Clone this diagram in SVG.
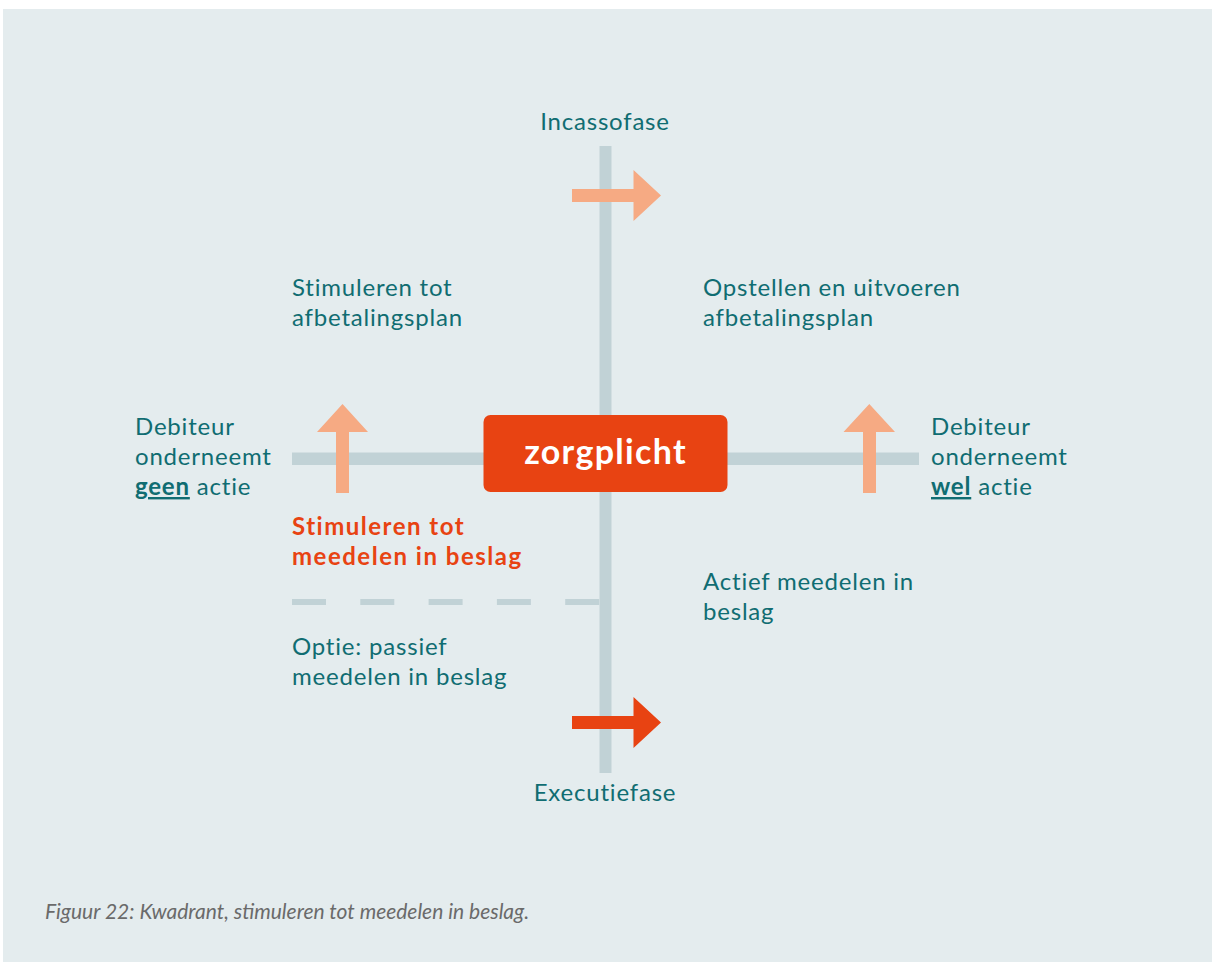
<svg xmlns="http://www.w3.org/2000/svg" width="1212" height="966" viewBox="0 0 1212 966">
  <defs>
    <style>
      .lbl { font-family: Lato, "Noto Sans", sans-serif; font-size: 24px; letter-spacing: 0.8px; fill: #106d72; }
      .hot { font-family: Lato, "Noto Sans", sans-serif; font-size: 24px; letter-spacing: 1.5px; font-weight: 700; fill: #e84312; }
      .em { font-weight: 700; text-decoration: underline; }
      .axis { fill: #c1d2d6; }
      .soft { fill: #f6aa83; }
      .strong { fill: #e84312; }
      .cap { font-family: Lato, "Noto Sans", sans-serif; font-size: 21px; font-style: italic; fill: #6a6a6a; }
    </style>
  </defs>

  <!-- panel -->
  <rect x="0" y="0" width="1212" height="966" fill="#ffffff"/>
  <rect x="3" y="9" width="1209" height="953" fill="#e4ecee"/>

  <!-- axes, arrows and dashed divider -->
  <g id="connectors">
    <rect class="axis" x="599.5" y="146" width="12" height="627"/>
    <rect class="axis" x="292" y="452.5" width="627" height="12.5"/>
    <line x1="292" y1="602" x2="600" y2="602" stroke="#c1d2d6" stroke-width="6" stroke-dasharray="34 34.3"/>
    <!-- incasso arrow -->
    <polygon class="soft" points="572,189 633.5,189 633.5,170 661,195.5 633.5,221 633.5,202 572,202"/>
    <!-- executie arrow -->
    <polygon class="strong" points="572,716 633.5,716 633.5,697 661,722.5 633.5,748 633.5,729 572,729"/>
    <!-- upward arrows -->
    <polygon class="soft" points="336,493 336,432 317,432 342.5,404 368,432 349,432 349,493"/>
    <polygon class="soft" points="863,493 863,432 843.5,432 869.3,404 895,432 876,432 876,493"/>
  </g>

  <g id="zorgplicht">
    <rect x="483.5" y="415" width="244" height="77" rx="7" fill="#e84312"/>
    <text x="605.5" y="463.5" text-anchor="middle" font-family="Lato, 'Noto Sans', sans-serif" font-size="34" letter-spacing="1.3" font-weight="700" fill="#ffffff">zorgplicht</text>
  </g>

  <g id="incassofase">
    <text class="lbl" x="605" y="129.5" text-anchor="middle">Incassofase</text>
  </g>
  <g id="executiefase">
    <text class="lbl" x="605" y="801" text-anchor="middle">Executiefase</text>
  </g>

  <g id="stimuleren-afbetalingsplan">
    <text class="lbl" x="292" y="296">Stimuleren tot</text>
    <text class="lbl" x="292" y="326">afbetalingsplan</text>
  </g>
  <g id="opstellen-afbetalingsplan">
    <text class="lbl" x="703" y="296">Opstellen en uitvoeren</text>
    <text class="lbl" x="703" y="326">afbetalingsplan</text>
  </g>

  <g id="debiteur-geen">
    <text class="lbl" x="135" y="435">Debiteur</text>
    <text class="lbl" x="135" y="465">onderneemt</text>
    <text class="lbl" x="135" y="495"><tspan class="em">geen</tspan> actie</text>
  </g>
  <g id="debiteur-wel">
    <text class="lbl" x="931" y="435">Debiteur</text>
    <text class="lbl" x="931" y="465">onderneemt</text>
    <text class="lbl" x="931" y="495"><tspan class="em">wel</tspan> actie</text>
  </g>

  <g id="stimuleren-beslag">
    <text class="hot" x="292" y="534.5">Stimuleren tot</text>
    <text class="hot" x="292" y="564.5">meedelen in beslag</text>
  </g>
  <g id="actief-beslag">
    <text class="lbl" x="703" y="590">Actief meedelen in</text>
    <text class="lbl" x="703" y="620">beslag</text>
  </g>
  <g id="passief-beslag">
    <text class="lbl" x="292" y="655">Optie: passief</text>
    <text class="lbl" x="292" y="685">meedelen in beslag</text>
  </g>

  <text class="cap" x="45" y="919">Figuur 22: Kwadrant, stimuleren tot meedelen in beslag.</text>
</svg>
